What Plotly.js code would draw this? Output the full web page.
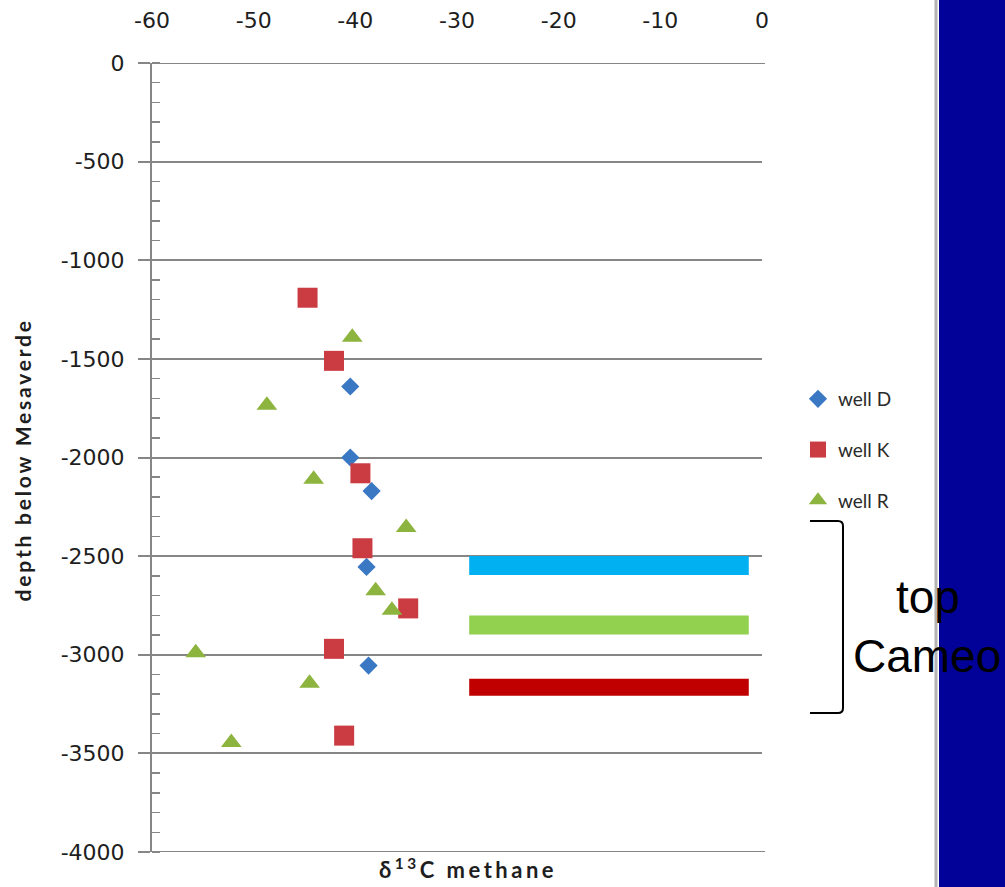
<!DOCTYPE html>
<html>
<head>
<meta charset="utf-8">
<script src="https://cdn.plot.ly/plotly-3.0.1.min.js"></script>
<style>html,body{margin:0;padding:0;background:#fff;}#chart{width:1005px;height:887px;}</style>
</head>
<body>
<div id="chart"></div>
<script>
// ---- data ----
const wellD_x = [-40.5, -40.5, -38.4, -38.9, -38.7];
const wellD_y = [-1640, -2000, -2170, -2555, -3055];

const wellK_x = [-44.7, -42.1, -39.5, -39.3, -34.8, -42.1, -41.1];
const wellK_y = [-1190, -1510, -2080, -2460, -2765, -2970, -3410];

const wellR_x = [-40.3, -48.7, -44.1, -35.0, -38.0, -36.4, -55.7, -44.5, -52.2];
const wellR_y = [-1390, -1735, -2110, -2355, -2675, -2775, -2990, -3145, -3445];

const cameoBand_x = [-28.8, -1.3];
const cameoBlue_y = -2548;
const cameoGreen_y = -2849;
const cameoRed_y = -3165;

const seriesNames = ['well D', 'well K', 'well R'];
const xTickVals = [-60, -50, -40, -30, -20, -10, 0];
const yTickVals = [0, -500, -1000, -1500, -2000, -2500, -3000, -3500, -4000];

// ---- layout helpers (pixel -> paper) ----
const L = 152, R = 762, T = 63, B = 852;
const px = v => (v - L) / (R - L);
const py = v => (B - v) / (B - T);

const traces = [
  {x: cameoBand_x, y: [cameoBlue_y, cameoBlue_y], mode: 'lines', line: {color: '#00B0F0', width: 19}, showlegend: false, hoverinfo: 'skip'},
  {x: cameoBand_x, y: [cameoGreen_y, cameoGreen_y], mode: 'lines', line: {color: '#92D050', width: 19}, showlegend: false, hoverinfo: 'skip'},
  {x: cameoBand_x, y: [cameoRed_y, cameoRed_y], mode: 'lines', line: {color: '#C00000', width: 17}, showlegend: false, hoverinfo: 'skip'},
  {x: wellD_x, y: wellD_y, name: seriesNames[0], mode: 'markers', legendgroup: 'd',
   marker: {symbol: 'diamond', size: 14, color: '#3A78C4'}},
  {x: wellK_x, y: wellK_y, name: seriesNames[1], mode: 'markers', legendgroup: 'k',
   marker: {symbol: 'square', size: 20, color: '#CB3B42'}},
  {x: wellR_x, y: wellR_y, name: seriesNames[2], mode: 'markers', legendgroup: 'r',
   marker: {symbol: 'triangle-up', size: 18, color: '#8DB43F'}}
];

const axisGray = '#868686';
const tickFont = {family: 'DejaVu Sans', size: 22, color: '#1e1e1e'};
const layout = {
  width: 1005, height: 887,
  margin: {l: L, r: 1005 - R, t: T, b: 887 - B, pad: 0},
  paper_bgcolor: '#ffffff', plot_bgcolor: '#ffffff',
  showlegend: true,
  xaxis: {
    range: [-60, 0], side: 'top', tickvals: xTickVals, ticktext: xTickVals.map(String),
    showgrid: false, zeroline: false, showline: false, ticks: '',
    tickfont: tickFont, ticklabelstandoff: 30, fixedrange: true
  },
  yaxis: {
    range: [-4000, 0], tickvals: yTickVals, ticktext: yTickVals.map(String),
    showgrid: true, gridcolor: axisGray, gridwidth: 2,
    zeroline: false, showline: true, linecolor: axisGray, linewidth: 2,
    ticks: 'outside', ticklen: 12, tickcolor: axisGray, tickwidth: 2,
    minor: {ticks: 'inside', dtick: 100, ticklen: 8, tickcolor: axisGray, tickwidth: 1.5, showgrid: false},
    tickfont: tickFont, ticklabelstandoff: 9, fixedrange: true
  },
  legend: {
    x: px(798), y: py(380), xanchor: 'left', yanchor: 'top',
    font: {family: 'Lato', size: 19, color: '#2a2a2a'},
    traceorder: 'grouped', tracegroupgap: 23, bgcolor: 'rgba(0,0,0,0)',
    itemwidth: 30
  },
  shapes: [
    {type: 'rect', xref: 'paper', yref: 'paper', x0: px(939), x1: px(1010), y0: py(895), y1: py(-5),
     fillcolor: '#020299', line: {width: 0}, layer: 'below'},
    {type: 'line', xref: 'paper', yref: 'paper', x0: px(936), x1: px(936), y0: py(895), y1: py(-5),
     line: {color: '#b4b4b4', width: 3}, layer: 'below'},
    {type: 'line', xref: 'paper', yref: 'y', x0: px(140), x1: px(765), y0: yTickVals[0], y1: yTickVals[0],
     line: {color: axisGray, width: 2}, layer: 'below'},
    {type: 'line', xref: 'paper', yref: 'y', x0: px(140), x1: px(765), y0: yTickVals[yTickVals.length - 1], y1: yTickVals[yTickVals.length - 1],
     line: {color: axisGray, width: 2}, layer: 'below'},
    {type: 'path', xref: 'paper', yref: 'paper',
     path: 'M ' + px(810) + ',' + py(521) + ' L ' + px(838) + ',' + py(521) +
           ' Q ' + px(843) + ',' + py(521) + ' ' + px(843) + ',' + py(526) +
           ' L ' + px(843) + ',' + py(708) +
           ' Q ' + px(843) + ',' + py(713) + ' ' + px(838) + ',' + py(713) +
           ' L ' + px(810) + ',' + py(713),
     line: {color: '#000', width: 2}}
  ],
  annotations: [
    {xref: 'paper', yref: 'paper', x: px(928), y: py(597), xanchor: 'center', yanchor: 'middle',
     text: 'top', showarrow: false, font: {family: 'Liberation Sans', size: 46, color: '#000'}},
    {xref: 'paper', yref: 'paper', x: px(927), y: py(656), xanchor: 'center', yanchor: 'middle',
     text: 'Cameo', showarrow: false, font: {family: 'Liberation Sans', size: 46, color: '#000'}},
    {xref: 'paper', yref: 'paper', x: px(468), y: py(869), xanchor: 'center', yanchor: 'middle',
     text: '<b>δ<sup>13</sup>C methane</b>', showarrow: false, font: {family: 'Lato', size: 22, color: '#1e1e1e'}},
    {xref: 'paper', yref: 'paper', x: px(22), y: py(460), xanchor: 'center', yanchor: 'middle', textangle: -90,
     text: '<b>depth below Mesaverde</b>', showarrow: false, font: {family: 'Lato', size: 21, color: '#1e1e1e'}}
  ]
};

Plotly.newPlot('chart', traces, layout, {displayModeBar: false, staticPlot: true}).then(function () {
  const texts = document.querySelectorAll('#chart .annotation-text');
  if (texts[2]) texts[2].style.letterSpacing = '3.5px';
  if (texts[3]) texts[3].style.letterSpacing = '2.8px';
});
</script>
</body>
</html>
